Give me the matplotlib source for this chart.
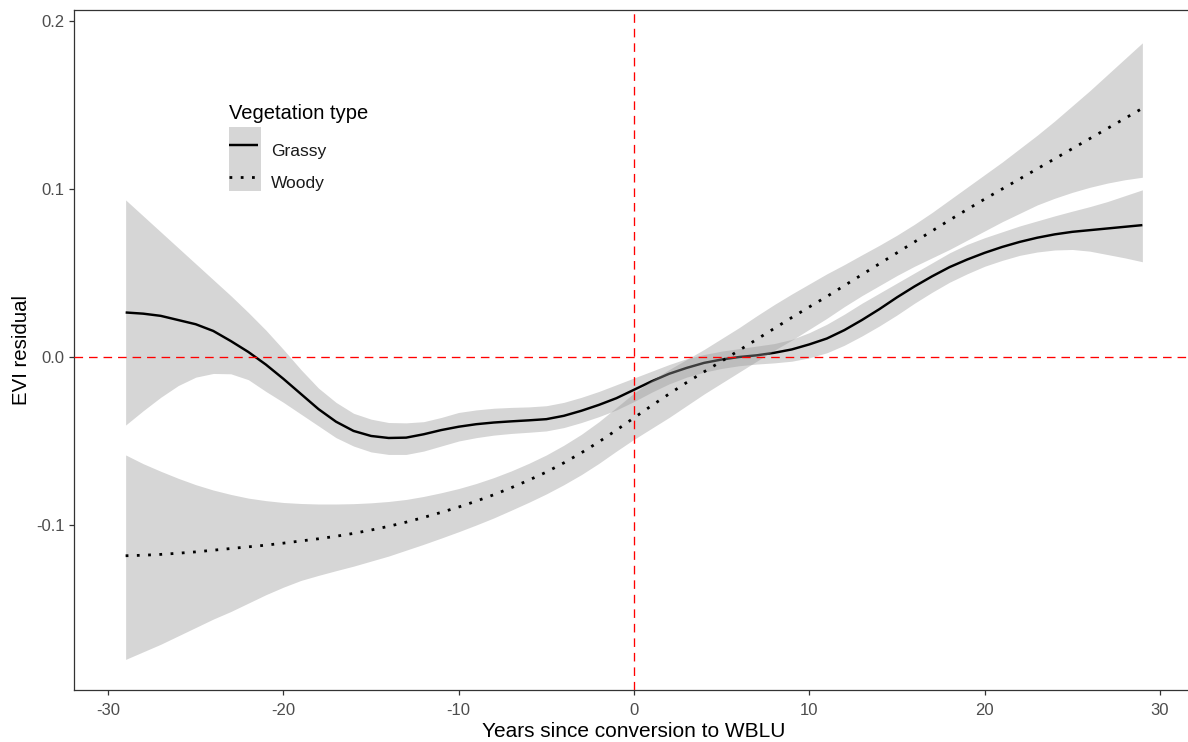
import matplotlib
matplotlib.use("Agg")
import matplotlib.pyplot as plt
from matplotlib.patches import Patch
from matplotlib.lines import Line2D
from matplotlib.legend_handler import HandlerLine2D, HandlerTuple

plt.rcParams['font.family'] = ['Liberation Sans', 'DejaVu Sans']

# ---------------- data ----------------
years = list(range(-29, 30))

grassy_fit = [0.0265, 0.0258, 0.0245, 0.0220, 0.0195, 0.0155, 0.0095, 0.0030, -0.0045,
              -0.0130, -0.0220, -0.0310, -0.0385, -0.0440, -0.0470, -0.0482, -0.0480,
              -0.0460, -0.0435, -0.0415, -0.0400, -0.0390, -0.0383, -0.0377, -0.0370,
              -0.0350, -0.0320, -0.0285, -0.0245, -0.0195, -0.0145, -0.0100, -0.0065,
              -0.0035, -0.0015, 0.0000, 0.0010, 0.0025, 0.0045, 0.0075, 0.0110, 0.0160,
              0.0220, 0.0285, 0.0355, 0.0420, 0.0480, 0.0535, 0.0580, 0.0620, 0.0655,
              0.0685, 0.0710, 0.0730, 0.0745, 0.0755, 0.0765, 0.0775, 0.0785]
grassy_upper = [0.0935, 0.0840, 0.0745, 0.0650, 0.0555, 0.0460, 0.0365, 0.0265, 0.0160,
                0.0045, -0.0075, -0.0185, -0.0270, -0.0335, -0.0370, -0.0390, -0.0392,
                -0.0385, -0.0360, -0.0330, -0.0315, -0.0305, -0.0300, -0.0297, -0.0290,
                -0.0270, -0.0240, -0.0205, -0.0165, -0.0125, -0.0085, -0.0045, -0.0010,
                0.0015, 0.0035, 0.0050, 0.0065, 0.0080, 0.0105, 0.0145, 0.0195, 0.0255,
                0.0320, 0.0380, 0.0440, 0.0500, 0.0560, 0.0620, 0.0670, 0.0710, 0.0745,
                0.0780, 0.0810, 0.0840, 0.0868, 0.0895, 0.0925, 0.0960, 0.0995]
grassy_lower = [-0.0405, -0.0320, -0.0240, -0.0170, -0.0120, -0.0098, -0.0100, -0.0135,
                -0.0205, -0.0270, -0.0340, -0.0410, -0.0480, -0.0530, -0.0565, -0.0580,
                -0.0580, -0.0560, -0.0530, -0.0500, -0.0480, -0.0465, -0.0455, -0.0448,
                -0.0440, -0.0420, -0.0390, -0.0355, -0.0315, -0.0265, -0.0210, -0.0160,
                -0.0120, -0.0090, -0.0068, -0.0052, -0.0042, -0.0035, -0.0025, -0.0005,
                0.0025, 0.0070, 0.0125, 0.0185, 0.0250, 0.0320, 0.0385, 0.0445, 0.0495,
                0.0540, 0.0575, 0.0605, 0.0625, 0.0637, 0.0640, 0.0630, 0.0610, 0.0590,
                0.0567]

woody_fit = [-0.1183, -0.1180, -0.1175, -0.1168, -0.1160, -0.1150, -0.1140, -0.1130,
             -0.1120, -0.1108, -0.1095, -0.1082, -0.1067, -0.1050, -0.1030, -0.1008,
             -0.0983, -0.0955, -0.0925, -0.0893, -0.0858, -0.0820, -0.0778, -0.0733,
             -0.0685, -0.0630, -0.0570, -0.0505, -0.0435, -0.0362, -0.0290, -0.0220,
             -0.0152, -0.0088, -0.0025, 0.0040, 0.0105, 0.0170, 0.0235, 0.0298, 0.0360,
             0.0425, 0.0490, 0.0555, 0.0620, 0.0685, 0.0750, 0.0815, 0.0878, 0.0940,
             0.1000, 0.1060, 0.1120, 0.1180, 0.1240, 0.1300, 0.1360, 0.1420, 0.1480]
woody_upper = [-0.0583, -0.0635, -0.0680, -0.0722, -0.0760, -0.0792, -0.0818, -0.0840,
               -0.0855, -0.0866, -0.0872, -0.0875, -0.0875, -0.0873, -0.0868, -0.0860,
               -0.0848, -0.0830, -0.0808, -0.0783, -0.0753, -0.0718, -0.0678, -0.0633,
               -0.0583, -0.0525, -0.0460, -0.0385, -0.0300, -0.0215, -0.0140, -0.0075,
               -0.0015, 0.0045, 0.0110, 0.0175, 0.0245, 0.0312, 0.0375, 0.0435, 0.0495,
               0.0550, 0.0608, 0.0665, 0.0725, 0.0790, 0.0860, 0.0935, 0.1010, 0.1085,
               0.1160, 0.1240, 0.1320, 0.1405, 0.1495, 0.1585, 0.1680, 0.1775, 0.1870]
woody_lower = [-0.1800, -0.1755, -0.1710, -0.1660, -0.1610, -0.1560, -0.1515, -0.1465,
               -0.1415, -0.1370, -0.1330, -0.1300, -0.1272, -0.1245, -0.1215, -0.1185,
               -0.1150, -0.1115, -0.1078, -0.1040, -0.1000, -0.0958, -0.0912, -0.0865,
               -0.0815, -0.0760, -0.0700, -0.0633, -0.0560, -0.0490, -0.0425, -0.0360,
               -0.0290, -0.0220, -0.0155, -0.0090, -0.0025, 0.0040, 0.0100, 0.0165,
               0.0230, 0.0300, 0.0365, 0.0425, 0.0485, 0.0540, 0.0590, 0.0640, 0.0695,
               0.0750, 0.0805, 0.0855, 0.0905, 0.0945, 0.0980, 0.1010, 0.1035, 0.1055,
               0.1070]

x_ticks = [-30, -20, -10, 0, 10, 20, 30]
y_ticks = [-0.1, 0.0, 0.1, 0.2]
y_ticklabels = ['-0.1', '0.0', '0.1', '0.2']
legend_labels = ['Grassy', 'Woody']

# ---------------- figure ----------------
W, H = 1188, 742
fig = plt.figure(figsize=(W / 100, H / 100), dpi=100)
ax = fig.add_axes([74 / W, (H - 690) / H, (W - 74) / W, 680 / H])

band_color = '#999999'
band_alpha = 0.4
lw_solid = 1.75
lw_dot = 2.0
dotted = (0, (1, 3.05))

ax.fill_between(years, grassy_lower, grassy_upper, color=band_color, alpha=band_alpha,
                lw=0, zorder=1)
ax.plot(years, grassy_fit, color='black', lw=lw_solid, solid_capstyle='butt',
        solid_joinstyle='round', zorder=2)
ax.fill_between(years, woody_lower, woody_upper, color=band_color, alpha=band_alpha,
                lw=0, zorder=3)
ax.plot(years, woody_fit, color='black', lw=lw_dot, linestyle=dotted, zorder=4)

dash = (0, (6.5, 4.5))
ax.axhline(0, color='red', lw=0.95, linestyle=dash, zorder=5)
ax.axvline(0, color='red', lw=0.95, linestyle=dash, zorder=5)

# ---------------- axes styling ----------------
px_per_x = 17.53
ax.set_xlim((74 - 634) / px_per_x, (W - 634) / px_per_x)
ax.set_ylim((357 - 690) / 1680, (357 - 10) / 1680)

ax.set_xticks(x_ticks)
ax.set_xticklabels([str(t) for t in x_ticks])
ax.set_yticks(y_ticks)
ax.set_yticklabels(y_ticklabels)

for side in ['left', 'bottom', 'top']:
    ax.spines[side].set_color('#333333')
    ax.spines[side].set_linewidth(0.9)
ax.spines['right'].set_visible(False)

ax.tick_params(axis='both', which='major', length=3.6, width=0.9, color='#333333',
               labelsize=12, labelcolor='#4D4D4D')
ax.tick_params(axis='x', pad=5.5)
ax.tick_params(axis='y', pad=3.2)

ax.set_xlabel('Years since conversion to WBLU', fontsize=15, color='black')
ax.set_ylabel('EVI residual', fontsize=14.7, color='black')
ax.xaxis.set_label_coords((634 - 74) / (W - 74), -(722 - 690) / 680)
ax.yaxis.set_label_coords(-(74 - 31) / (W - 74), 0.5)


# ---------------- legend ----------------
class CenteredLine(HandlerLine2D):
    """Line key drawn through the vertical centre of the key box."""

    def create_artists(self, legend, orig_handle, xdescent, ydescent, width, height,
                       fontsize, trans):
        artists = super().create_artists(legend, orig_handle, xdescent, ydescent,
                                         width, height, fontsize, trans)
        for a in artists:
            xd = a.get_xdata()
            a.set_xdata([xd[0], xd[-1] - 0.1 * width])
            a.set_ydata([height / 2 - ydescent - 1.5] * 2)
        return artists


handles = [
    (Patch(facecolor=band_color, alpha=band_alpha, lw=0),
     Line2D([], [], color='black', lw=lw_solid, solid_capstyle='butt')),
    (Patch(facecolor=band_color, alpha=band_alpha, lw=0),
     Line2D([], [], color='black', lw=lw_dot, linestyle=dotted)),
]
leg = ax.legend(handles, legend_labels, title='Vegetation type', loc='upper left',
                bbox_to_anchor=(229 / W, 1 - 104 / H), bbox_transform=fig.transFigure,
                frameon=False, fontsize=12.5, title_fontsize=14.5,
                handlelength=1.843, handleheight=2.459, handletextpad=0.576,
                labelspacing=0.0, borderpad=0.0, borderaxespad=0.0,
                alignment='left',
                handler_map={tuple: HandlerTuple(ndivide=1, pad=0),
                             Line2D: CenteredLine()})
leg._legend_box.sep = 3
for col in leg._legend_handle_box.get_children():
    for item in col.get_children():
        item.align = 'bottom'
for t in leg.get_texts():
    t.set_color('#1A1A1A')

fig.savefig('out.png', dpi=100)
